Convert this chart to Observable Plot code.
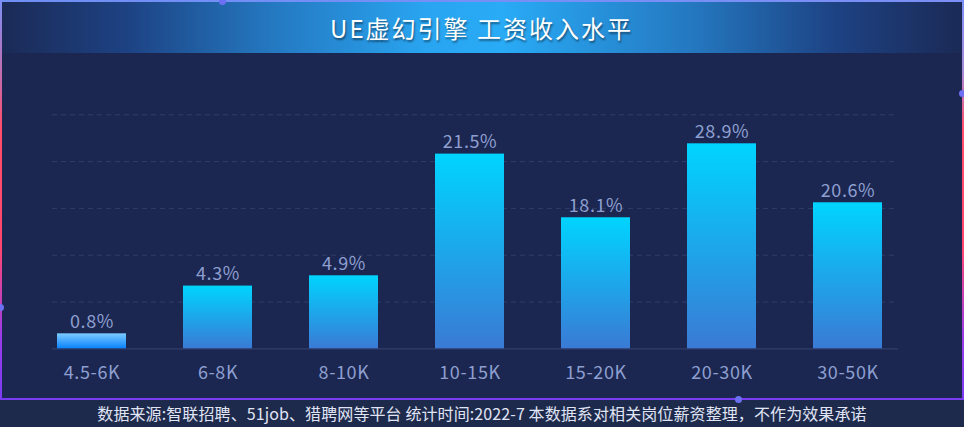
<!DOCTYPE html>
<html>
<head>
<meta charset="utf-8">
<script src="https://cdn.jsdelivr.net/npm/d3@7"></script>
<script src="https://cdn.jsdelivr.net/npm/@observablehq/plot@0.6"></script>
<style>
  html, body { margin: 0; padding: 0; background: #1e2a4c; }
  body { width: 964px; height: 427px; overflow: hidden; font-family: 'Noto Sans CJK SC', 'Noto Sans', sans-serif; }
  #frame { position: relative; width: 964px; height: 400px; background: #1b2750; box-sizing: border-box; }
  #title { position: absolute; left: 2px; top: 2px; width: 959px; height: 51px;
    background: linear-gradient(90deg, #1b2a56 0%, #1d4283 13%, #2478c0 28%, #29a4f0 44%, #29abf6 52%, #2478c0 72%, #1d4283 87%, #1b2a56 100%);
    color: #fff; font-size: 24px; letter-spacing: 2px; line-height: 51px; text-align: center;
    text-shadow: 1px 2px 2px rgba(0,0,0,0.45); }
  #chart { position: absolute; left: 0; top: 53px; }
  #chart svg text { letter-spacing: 0.6px; }
  .edge { position: absolute; }
  #eTop { left: 0; top: 0; width: 964px; height: 2px; background: linear-gradient(90deg, #6f8ff5, #7b8ff6); }
  #eBottom { left: 0; top: 398px; width: 964px; height: 2px; background: #7a3cf3; }
  #eLeft { left: 0; top: 0; width: 2px; height: 400px; background: linear-gradient(180deg, #7b8ff6 0%, #c86aa8 20%, #ff4d6a 32%, #ff4670 62%, #9a3ce8 84%, #7a3cf3 100%); }
  #eRight { left: 962px; top: 0; width: 2px; height: 400px; background: linear-gradient(180deg, #7b8ff6 0%, #a88ad8 18%, #ff4d6a 32%, #ff4670 62%, #9a3ce8 84%, #7a3cf3 100%); }
  .dot { position: absolute; width: 7px; height: 7px; border-radius: 50%; background: #6c70f2; }
  #footer { height: 27px; line-height: 27px; text-align: center; color: #e0e5f5; font-size: 16px; letter-spacing: 0.1px; background: #1e2a4c; }
</style>
</head>
<body>
<div id="frame">
  <div id="title"></div>
  <div id="chart"></div>
  <div class="edge" id="eTop"></div>
  <div class="edge" id="eBottom"></div>
  <div class="edge" id="eLeft"></div>
  <div class="edge" id="eRight"></div>
  <div class="dot" style="left:219px;top:-2px"></div>
  <div class="dot" style="left:959px;top:90px"></div>
  <div class="dot" style="left:-3px;top:304px"></div>
  <div class="dot" style="left:735px;top:396px"></div>
</div>
<div id="footer"></div>
<script>
const titleText = "UE虚幻引擎 工资收入水平";
const footerText = "数据来源:智联招聘、51job、猎聘网等平台 统计时间:2022-7 本数据系对相关岗位薪资整理，不作为效果承诺";
const categories = ["4.5-6K", "6-8K", "8-10K", "10-15K", "15-20K", "20-30K", "30-50K"];
const barValues = [1.6, 6.7, 7.8, 20.8, 14.0, 21.9, 15.6];
const shareLabels = ["0.8%", "4.3%", "4.9%", "21.5%", "18.1%", "28.9%", "20.6%"];
const gridTicks = [5, 10, 15, 20, 25];

document.getElementById("title").textContent = titleText;
document.getElementById("footer").textContent = footerText;

const data = categories.map((c, i) => ({cat: c, v: barValues[i], label: shareLabels[i]}));

const svg = Plot.plot({
  width: 964,
  height: 347,
  marginLeft: 52,
  marginRight: 66,
  marginTop: 61.3,
  marginBottom: 51.7,
  style: {background: "transparent", color: "#8e9fd0", fontSize: "18px", fontFamily: "'Noto Sans CJK SC', 'Noto Sans', sans-serif"},
  x: {domain: categories, range: [27.25, 912.25], paddingInner: 0.4545, paddingOuter: 0.2273, label: null, tickSize: 0, tickPadding: 17},
  y: {domain: [0, 25], axis: null},
  marks: [
    Plot.ruleY(gridTicks, {stroke: "#2e3e6c", strokeDasharray: "5,4", strokeWidth: 1}),
    Plot.ruleY([0], {stroke: "#303f6a", strokeWidth: 1.2}),
    Plot.barY(data.slice(0, 1), {x: "cat", y: "v", fill: "url(#barFirst)"}),
    Plot.barY(data.slice(1), {x: "cat", y: "v", fill: "url(#barMain)"}),
    Plot.text(data, {x: "cat", y: "v", text: "label", dy: -6, lineAnchor: "bottom", fill: "#8e9fd0", fontSize: 18})
  ]
});

const defs = d3.select(svg).insert("defs", ":first-child");
const g0 = defs.append("linearGradient").attr("id", "barMain").attr("x1", 0).attr("y1", 0).attr("x2", 0).attr("y2", 1);
g0.append("stop").attr("offset", "0%").attr("stop-color", "#00d4ff");
g0.append("stop").attr("offset", "100%").attr("stop-color", "#3a7ad5");
const g1 = defs.append("linearGradient").attr("id", "barFirst").attr("x1", 0).attr("y1", 0).attr("x2", 0).attr("y2", 1);
g1.append("stop").attr("offset", "0%").attr("stop-color", "#7cccff");
g1.append("stop").attr("offset", "100%").attr("stop-color", "#0a82ff");

document.getElementById("chart").appendChild(svg);
</script>
</body>
</html>
